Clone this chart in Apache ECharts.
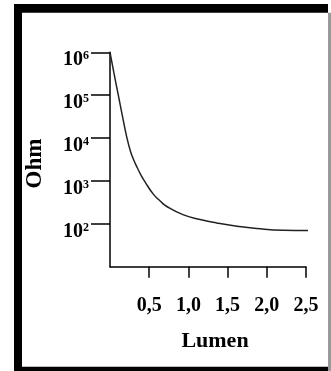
<!DOCTYPE html>
<html>
<head>
<meta charset="utf-8">
<script src="https://cdn.jsdelivr.net/npm/echarts@6/dist/echarts.min.js"></script>
<style>
html,body{margin:0;padding:0;background:#fff;}
#chart{width:331px;height:371px;}
</style>
</head>
<body>
<div id="chart"></div>
<script>
// Lumen values (x) and resistance in Ohm (y)
var lumen = [0, 0.05, 0.106, 0.16, 0.213, 0.26, 0.30, 0.35, 0.40, 0.45, 0.55, 0.64, 0.72, 0.93, 1.15, 1.36, 1.62, 1.87, 2.21, 2.55];
var ohm = [1e6, 3.3e5, 1e5, 3.16e4, 1.07e4, 5000, 3160, 2000, 1320, 930, 500, 340, 257, 164, 126, 105, 88, 78, 71, 70];
var xTicks = [0.5, 1.0, 1.5, 2.0, 2.5];
var yTicks = [1e2, 1e3, 1e4, 1e5, 1e6];
var xName = 'Lumen';
var yName = 'Ohm';

var FONT = '"Liberation Serif", "Times New Roman", serif';
var chart = echarts.init(document.getElementById('chart'));
var pts = lumen.map(function (v, i) { return [v, ohm[i]]; });

chart.setOption({
  backgroundColor: '#fff',
  animation: false,
  graphic: [
    {type: 'rect', shape: {x: 14, y: 4, width: 8, height: 367}, style: {fill: '#000'}},
    {type: 'rect', shape: {x: 14, y: 4, width: 314, height: 8.7}, style: {fill: '#000'}},
    {type: 'rect', shape: {x: 14, y: 366.7, width: 314, height: 4.3}, style: {fill: '#000'}},
    {type: 'rect', shape: {x: 328, y: 12.7, width: 3, height: 358.3}, style: {fill: '#999'}}
  ],
  grid: {left: 110, top: 52.3, right: 25, bottom: 104.3, containLabel: false},
  xAxis: {
    type: 'value',
    min: 0, max: 2.5, interval: 0.5,
    name: xName,
    nameLocation: 'middle',
    nameGap: 64,
    nameTextStyle: {fontFamily: FONT, fontWeight: 'bold', fontSize: 22, color: '#000', padding: [0, 0, 0, 14]},
    axisLine: {show: true, lineStyle: {color: '#000', width: 1.5}},
    axisTick: {show: true, length: 11, lineStyle: {color: '#000', width: 1.5}, customValues: xTicks},
    axisLabel: {
      customValues: xTicks,
      margin: 29,
      fontFamily: FONT, fontWeight: 'bold', fontSize: 20, color: '#000',
      formatter: function (v) { return v.toFixed(1).replace('.', ','); }
    },
    splitLine: {show: false}
  },
  yAxis: {
    type: 'log',
    logBase: 10,
    min: 10, max: 1e6,
    name: yName,
    nameLocation: 'middle',
    nameGap: 63,
    nameRotate: 90,
    nameTextStyle: {fontFamily: FONT, fontWeight: 'bold', fontSize: 23, color: '#000', padding: [0, 8, 0, 0]},
    axisLine: {show: true, lineStyle: {color: '#000', width: 1.5}},
    axisTick: {show: true, length: 19, lineStyle: {color: '#000', width: 1.5}, customValues: yTicks},
    axisLabel: {
      customValues: yTicks,
      margin: 21,
      padding: [16, 0, 0, 0],
      fontFamily: FONT, fontWeight: 'bold', color: '#000',
      formatter: function (v) {
        var e = Math.round(Math.log10(v));
        return '{b|10}{s|' + e + '}';
      },
      rich: {
        b: {fontFamily: FONT, fontWeight: 'bold', fontSize: 20, lineHeight: 20, verticalAlign: 'bottom', padding: [6, 0, 0, 0], color: '#000'},
        s: {fontFamily: FONT, fontWeight: 'bold', fontSize: 12, lineHeight: 12, verticalAlign: 'top', color: '#000'}
      }
    },
    splitLine: {show: false}
  },
  series: [{
    type: 'line',
    data: pts,
    showSymbol: false,
    smooth: 0.5,
    lineStyle: {color: '#222', width: 1.5}
  }]
});
</script>
</body>
</html>
